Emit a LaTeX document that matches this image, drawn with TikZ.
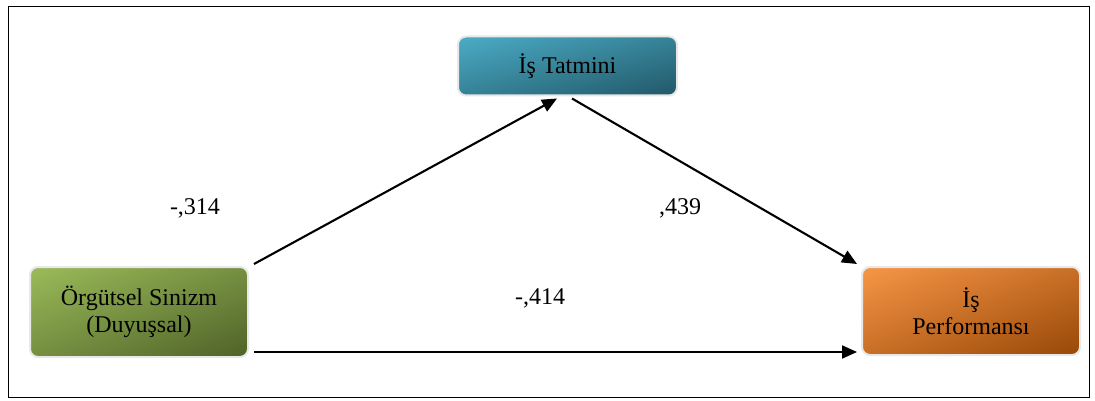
\documentclass[tikz,border=0pt]{standalone}
\usepackage{fontspec}
\setmainfont{Liberation Serif}
\usetikzlibrary{arrows.meta,calc,shadings}
\definecolor{bA}{RGB}{75,172,198}
\definecolor{bB}{RGB}{33,88,104}
\definecolor{bM}{RGB}{54,130,151}
\definecolor{gA}{RGB}{155,187,89}
\definecolor{gB}{RGB}{79,98,40}
\definecolor{gM}{RGB}{117,143,65}
\definecolor{oA}{RGB}{247,150,70}
\definecolor{oB}{RGB}{152,72,7}
\definecolor{oM}{RGB}{200,111,39}
\begin{document}
\begin{tikzpicture}[x=1pt,y=-1pt,
  box/.style={draw=black!9, line width=2pt, rounded corners=8pt, align=center,
    inner sep=0pt, font=\fontsize{24}{27}\selectfont},
  lbl/.style={font=\fontsize{24}{27}\selectfont, inner sep=0pt},
  conn/.style={line width=2.1pt, -{Triangle[length=15pt,width=13pt]}}]
\useasboundingbox (0,0) rectangle (1095,401);
\draw[line width=1pt] (8,7) rectangle (1089,397);
\node[box, minimum width=219pt, minimum height=59pt,
  upper left=bA, lower right=bB, upper right=bM, lower left=bM]
  (tat) at (567.5,66) {İş Tatmini};
\node[box, minimum width=218pt, minimum height=90pt,
  upper left=gA, lower right=gB, upper right=gM, lower left=gM]
  (org) at (139,312) {Örgütsel Sinizm\\(Duyuşsal)};
\node[box, minimum width=218pt, minimum height=88pt,
  upper left=oA, lower right=oB, upper right=oM, lower left=oM]
  (perf) at (971,311) {İş\\Performansı};
\coordinate (a1s) at ($(org.north east)+(5,-2)$);
\coordinate (a1e) at ($(tat.south)+(-10.5,2)$);
\coordinate (a2s) at ($(tat.south)+(4.5,2)$);
\coordinate (a2e) at ($(perf.north west)+(-4,-2)$);
\coordinate (a3s) at ($(org.south east)+(5,-6)$);
\coordinate (a3e) at ($(perf.south west)+(-4,-4)$);
\draw[conn] (a1s) -- (a1e);
\draw[conn] (a2s) -- (a2e);
\draw[conn] (a3s) -- (a3e);
\node[lbl] (l1) at (195,208) {-,314};
\node[lbl] (l2) at (680,208) {,439};
\node[lbl] (l3) at (540,298) {-,414};
\end{tikzpicture}
\end{document}
